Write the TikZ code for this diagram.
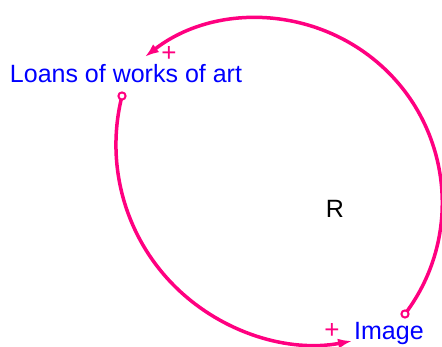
\documentclass[tikz,border=0pt]{standalone}
\usepackage{fontspec}
\setmainfont{Liberation Sans}
\usetikzlibrary{arrows.meta}
\definecolor{linkpink}{RGB}{255,0,128}
\definecolor{varblue}{RGB}{0,0,255}
\tikzset{
  varlabel/.style={inner sep=0pt, text=varblue, font=\fontsize{25}{29}\selectfont},
  looplabel/.style={inner sep=0pt, text=black, font=\fontsize{25}{29}\selectfont},
  polarity/.style={inner sep=0pt, text=linkpink, font=\fontsize{26}{30}\selectfont},
  link/.style={draw=linkpink, line width=3.5pt, -{Latex[length=14pt,width=10pt]}},
  tail/.style={draw=linkpink, line width=2pt, fill=white}
}
\begin{document}
\begin{tikzpicture}[x=1pt,y=1pt]
  \useasboundingbox (0,0) rectangle (442,347);
  \node[varlabel, anchor=base] (loans) at (126,264) {Loans of works of art};
  \node[varlabel, anchor=base west] (image) at (354,7) {Image};
  \node[looplabel, anchor=base] (R) at (335,129) {R};
  \coordinate (imgtail) at (405,33);
  \coordinate (loanstail) at (122,251);
  % Image -> Loans
  \draw[link] (imgtail) arc[start angle=-37.06, end angle=127.7, radius=184.5];
  % Loans -> Image
  \draw[link] (loanstail) arc[start angle=165.85, end angle=280.54, radius=199.6];
  \draw[tail] (imgtail) circle (3.6);
  \draw[tail] (loanstail) circle (3.6);
  \node[polarity] (p1) at (169,293) {+};
  \node[polarity] (p2) at (332,16) {+};
\end{tikzpicture}
\end{document}
